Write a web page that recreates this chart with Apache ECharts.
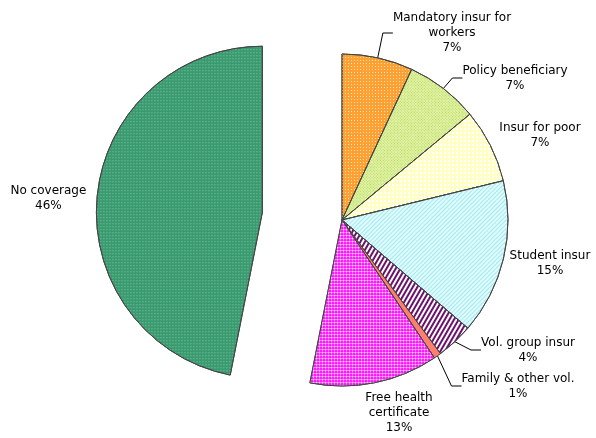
<!DOCTYPE html>
<html>
<head>
<meta charset="utf-8">
<script src="https://cdn.jsdelivr.net/npm/echarts@6/dist/echarts.min.js"></script>
<style>html,body{margin:0;padding:0;background:#fff;}#c{width:596px;height:438px;}</style>
</head>
<body>
<div id="c"></div>
<script>
const categories = ['Mandatory insur for\nworkers', 'Policy beneficiary', 'Insur for poor', 'Student insur', 'Vol. group insur', 'Family & other vol.', 'Free health\ncertificate', 'No coverage'];
// shares
const values = [6.9, 7.1, 7.2, 15.1, 3.6, 0.7, 12.5, 46.9];
// percentages as printed on the chart
const percentLabels = ['7%', '7%', '7%', '15%', '4%', '1%', '13%', '46%'];

const styles = [
  { color: '#FFA033', decal: { symbol: 'rect', symbolSize: 1, dashArrayX: [1, 2], dashArrayY: [1, 2], color: '#FFE2B8' } },
  { color: '#E2F2A8', decal: { symbol: 'rect', symbolSize: 1, dashArrayX: [1, 1], dashArrayY: [1, 1], color: '#B4D958', rotation: Math.PI / 4 } },
  { color: '#FFFFC4', decal: { symbol: 'rect', symbolSize: 1, dashArrayX: [2, 2], dashArrayY: [2, 2], color: '#FFFFFF' } },
  { color: '#DDFDFF', decal: { symbol: 'rect', symbolSize: 1, dashArrayX: [1, 0], dashArrayY: [1, 2], color: '#A9E6EE', rotation: -Math.PI / 4 } },
  { color: '#FFFFFF', decal: { symbol: 'rect', symbolSize: 1, dashArrayX: [1, 0], dashArrayY: [2, 2], color: '#6B106B', rotation: -Math.PI / 3 } },
  { color: '#FF7F6F' },
  { color: '#FF00FF', decal: { symbol: 'circle', symbolSize: 0.75, dashArrayX: [3, 0], dashArrayY: [3, 0], color: 'rgba(255,255,255,0.85)' } },
  { color: '#3A9A70', decal: { symbol: 'rect', symbolSize: 1, dashArrayX: [1, 2], dashArrayY: [1, 2], color: '#86C8A6' } }
];

const labelPos = [
  { x: 452, y: 33, line: true },
  { x: 515, y: 78, line: true },
  { x: 540, y: 135, line: false },
  { x: 550, y: 263, line: false },
  { x: 528, y: 350, line: true },
  { x: 518, y: 386, line: true },
  { x: 399, y: 413, line: false },
  { x: 48, y: 198, line: false }
];
const SELECTED_OFFSET = 80;

const data = categories.map((name, i) => ({
  name: name,
  value: values[i],
  selected: i === 7,
  itemStyle: Object.assign({ borderColor: '#444', borderWidth: 1 }, styles[i]),
  labelLine: { show: labelPos[i].line }
}));

const chart = echarts.init(document.getElementById('c'));
chart.setOption({
  animation: false,
  series: [{
    type: 'pie',
    center: [342, 220],
    radius: 166,
    startAngle: 90,
    clockwise: true,
    selectedMode: 'single',
    selectedOffset: SELECTED_OFFSET,
    data: data,
    label: {
      show: true,
      position: 'outside',
      formatter: p => p.name + '\n' + percentLabels[p.dataIndex],
      fontFamily: 'DejaVu Sans',
      fontSize: 12,
      lineHeight: 15,
      color: '#000',
      align: 'center',
      overflow: 'none'
    },
    labelLine: { show: true, length: 12, length2: 10, lineStyle: { color: '#000', width: 1 } },
    emphasis: { disabled: true },
    labelLayout: function (params) {
      const p = labelPos[params.dataIndex];
      if (params.dataIndex === 7) {
        // the selected slice's label is shifted afterwards by the explode offset
        const tx = p.x + 80, ty = p.y + 8;
        return {
          align: 'center',
          dx: tx - (params.labelRect.x + params.labelRect.width),
          dy: ty - (params.labelRect.y + params.labelRect.height / 2)
        };
      }
      return { x: p.x, y: p.y, align: 'center', verticalAlign: 'middle' };
    }
  }]
});
</script>
</body>
</html>
